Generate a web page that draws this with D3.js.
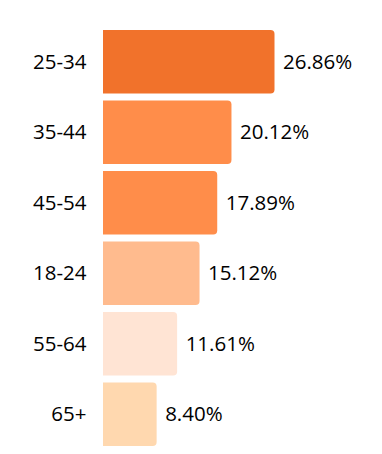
<!DOCTYPE html>
<html><head><meta charset="utf-8">
<script src="https://cdn.jsdelivr.net/npm/d3@7"></script>
<style>html,body{margin:0;padding:0;background:#fff;}svg{display:block;font-family:"Open Sans",sans-serif;}</style>
</head><body>
<svg id="chart" width="382" height="454"></svg>
<script>
const categories = ["25-34","35-44","45-54","18-24","55-64","65+"];
const values = [26.86, 20.12, 17.89, 15.12, 11.61, 8.40];
const colors = ["#F1722B","#FF8D4A","#FF8D4A","#FFBB8E","#FFE4D4","#FFD8AF"];

const svg = d3.select("#chart");
const y = d3.scaleBand().domain(categories).range([30, 446]).paddingInner(0.1).paddingOuter(0);
const x = d3.scaleLinear().domain([0, 26.86]).range([103, 274.5]);
const r = 4;

function barPath(x0, x1, y0, h) {
  const rr = Math.min(r, (x1 - x0) / 2, h / 2);
  return `M${x0},${y0}H${x1 - rr}Q${x1},${y0} ${x1},${y0 + rr}V${y0 + h - rr}Q${x1},${y0 + h} ${x1 - rr},${y0 + h}H${x0}Z`;
}

const g = svg.append("g");
g.selectAll("path.bar").data(categories).join("path")
  .attr("class", "bar")
  .attr("fill", (d, i) => colors[i])
  .attr("d", (d, i) => barPath(x(0), x(values[i]), y(d), y.bandwidth()));

g.selectAll("text.cat").data(categories).join("text")
  .attr("class", "cat")
  .attr("x", x(0) - 16.5)
  .attr("y", d => y(d) + y.bandwidth() / 2)
  .attr("dy", "0.35em")
  .attr("text-anchor", "end")
  .attr("font-size", 20.5)
  .attr("fill", "#000")
  .text(d => d);

g.selectAll("text.val").data(categories).join("text")
  .attr("class", "val")
  .attr("x", (d, i) => x(values[i]) + 8.5)
  .attr("y", d => y(d) + y.bandwidth() / 2)
  .attr("dy", "0.35em")
  .attr("font-size", 20.5)
  .attr("fill", "#000")
  .text((d, i) => values[i].toFixed(2) + "%");
</script>
</body></html>
